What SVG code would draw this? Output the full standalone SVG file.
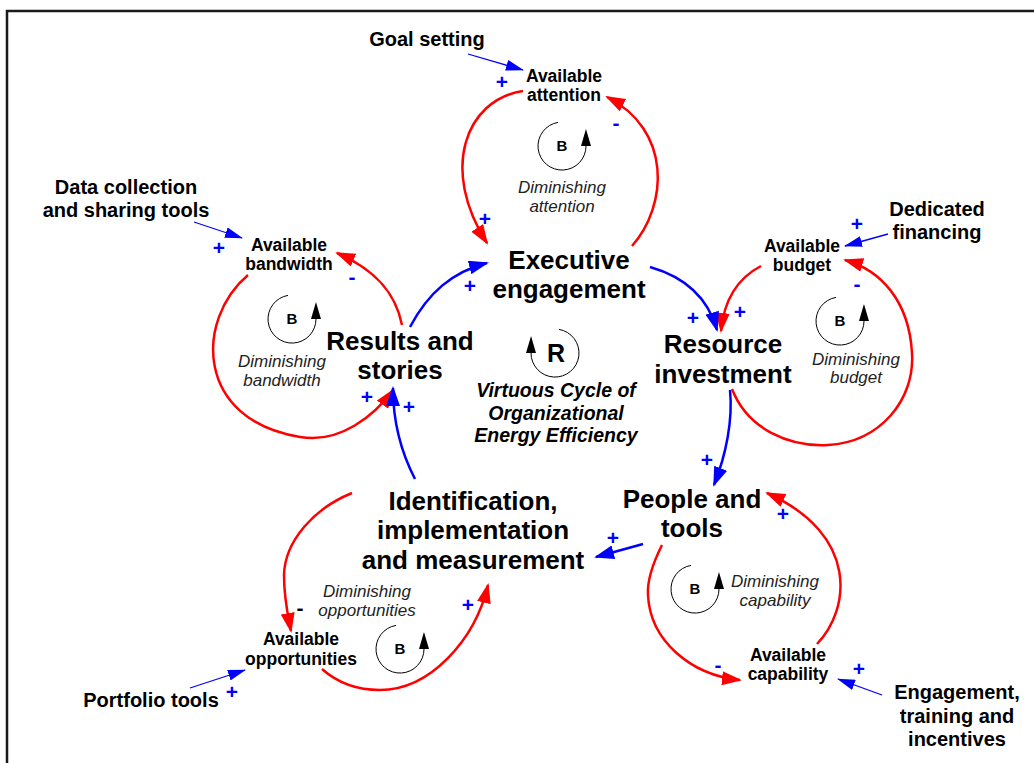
<svg xmlns="http://www.w3.org/2000/svg" width="1034" height="763" viewBox="0 0 1034 763">
<defs>
<style>
text{font-family:"Liberation Sans",Arial,sans-serif;fill:#000;text-anchor:middle}
.n{font-size:26px;font-weight:bold}
.s{font-size:17.5px;font-weight:bold}
.x{font-size:20px;font-weight:bold}
.i{font-size:17px;font-style:italic;fill:#222}
.v{font-size:19.5px;font-weight:bold;font-style:italic}
.lb{font-size:15px;font-weight:bold}
.lr{font-size:25px;font-weight:bold}
.pl{font-size:21px;font-weight:bold;fill:#00f}
.mk{font-size:21px;font-weight:bold;fill:#000}
.red{fill:none;stroke:#f00;stroke-width:2.5;marker-end:url(#ar)}
.blu{fill:none;stroke:#00f;stroke-width:2.5;marker-end:url(#ab)}
.thin{fill:none;stroke:#00f;stroke-width:1.3;marker-end:url(#at)}
.loop{fill:none;stroke:#000;stroke-width:1;marker-end:url(#ak)}
</style>
<marker id="ar" markerUnits="userSpaceOnUse" markerWidth="20" markerHeight="14" refX="18" refY="7" orient="auto"><path d="M0,0 L20,7 L0,14 z" fill="#f00"/></marker>
<marker id="ab" markerUnits="userSpaceOnUse" markerWidth="20" markerHeight="14" refX="18" refY="7" orient="auto"><path d="M0,0 L20,7 L0,14 z" fill="#00f"/></marker>
<marker id="at" markerUnits="userSpaceOnUse" markerWidth="18" markerHeight="11" refX="17" refY="5.5" orient="auto"><path d="M0,0 L18,5.5 L0,11 z" fill="#00f"/></marker>
<marker id="ak" markerUnits="userSpaceOnUse" markerWidth="17" markerHeight="10" refX="0" refY="5" orient="auto"><path d="M0,0 L17,5 L0,10 z" fill="#000"/></marker>
</defs>
<rect x="0" y="0" width="1034" height="763" fill="#fff"/>
<rect x="7" y="11" width="1040" height="770" fill="none" stroke="#1a1a1a" stroke-width="2.5"/>

<g id="connectors">
<path class="red" d="M523,91 C465,100 440,170 487,243"/>
<path class="red" d="M632,246 C668,205 672,130 607,97"/>
<path class="red" d="M248,275 C195,320 195,420 300,437 C340,444 375,415 393,390"/>
<path class="red" d="M402,325 C395,290 372,268 337,253"/>
<path class="red" d="M761,266 C738,278 724,300 721,331"/>
<path class="red" d="M732,389 C748,430 790,447 828,445 C880,442 915,400 912,353 C909,300 880,270 845,260"/>
<path class="red" d="M662,545 C652,565 647,580 648,595 C650,640 690,675 740,680"/>
<path class="red" d="M817,644 C850,610 860,535 767,493"/>
<path class="red" d="M352,493 C315,508 285,540 284,575 C284,600 288,615 291,631"/>
<path class="red" d="M322,669 C340,685 360,690 380,690 C430,690 475,640 488,585"/>
<path class="blu" d="M410,327 C428,293 452,272 487,263"/>
<path class="blu" d="M650,267 C685,277 708,298 717,330"/>
<path class="blu" d="M730,390 C733,420 726,455 714,485"/>
<path class="blu" d="M643,544 L596,557"/>
<path class="blu" d="M415,479 C400,450 393,420 393,388"/>
<path class="thin" d="M468,54 L523,70"/>
<path class="thin" d="M194,222 L242,238"/>
<path class="thin" d="M888,234 L845,246"/>
<path class="thin" d="M190,688 L245,670"/>
<path class="thin" d="M882,695 L838,679"/>
</g>

<g id="polarities">
<text class="pl" x="502" y="89">+</text>
<text class="pl" x="485" y="226">+</text>
<text class="pl" x="616" y="130">-</text>
<text class="pl" x="219" y="255">+</text>
<text class="pl" x="367" y="404">+</text>
<text class="pl" x="352" y="284">-</text>
<text class="pl" x="470" y="293">+</text>
<text class="pl" x="409" y="414">+</text>
<text class="pl" x="693" y="325">+</text>
<text class="pl" x="740" y="319">+</text>
<text class="pl" x="857" y="231">+</text>
<text class="pl" x="857" y="291">-</text>
<text class="pl" x="707" y="467">+</text>
<text class="pl" x="613" y="545">+</text>
<text class="pl" x="783" y="521">+</text>
<text class="pl" x="718" y="672">-</text>
<text class="pl" x="859" y="676">+</text>
<text class="mk" x="300" y="615">-</text>
<text class="pl" x="468" y="612">+</text>
<text class="pl" x="232" y="699">+</text>
</g>

<g id="goal-setting"><text class="x" x="427" y="46">Goal setting</text></g>
<g id="available-attention"><text class="s" x="564" y="82">Available</text><text class="s" x="564" y="101">attention</text></g>
<g id="executive-engagement"><text class="n" x="569" y="269">Executive</text><text class="n" x="569" y="298">engagement</text></g>
<g id="results-stories"><text class="n" x="400" y="350">Results and</text><text class="n" x="400" y="379">stories</text></g>
<g id="resource-investment"><text class="n" x="723" y="353">Resource</text><text class="n" x="723" y="383">investment</text></g>
<g id="people-tools"><text class="n" x="692" y="508">People and</text><text class="n" x="692" y="537">tools</text></g>
<g id="identification"><text class="n" x="473" y="510">Identification,</text><text class="n" x="473" y="539">implementation</text><text class="n" x="473" y="569">and measurement</text></g>
<g id="available-opportunities"><text class="s" x="301" y="645">Available</text><text class="s" x="301" y="665">opportunities</text></g>
<g id="portfolio-tools"><text class="x" x="151" y="707">Portfolio tools</text></g>
<g id="available-capability"><text class="s" x="788" y="661">Available</text><text class="s" x="788" y="680">capability</text></g>
<g id="engagement-training"><text class="x" x="957" y="699">Engagement,</text><text class="x" x="957" y="723">training and</text><text class="x" x="957" y="746">incentives</text></g>
<g id="available-budget"><text class="s" x="802" y="252">Available</text><text class="s" x="802" y="271">budget</text></g>
<g id="dedicated-financing"><text class="x" x="937" y="216">Dedicated</text><text class="x" x="937" y="239">financing</text></g>
<g id="available-bandwidth"><text class="s" x="289" y="251">Available</text><text class="s" x="289" y="270">bandwidth</text></g>
<g id="data-collection"><text class="x" x="126" y="194">Data collection</text><text class="x" x="126" y="217">and sharing tools</text></g>

<g id="loop-attention">
<path class="loop" d="M558,122.4 A24,24 0 1 0 586,146"/>
<text class="lb" x="562" y="151">B</text>
<text class="i" x="562" y="193">Diminishing</text><text class="i" x="562" y="212">attention</text>
</g>
<g id="loop-bandwidth">
<path class="loop" d="M288,295.4 A24,24 0 1 0 316,319"/>
<text class="lb" x="292" y="324">B</text>
<text class="i" x="282" y="367">Diminishing</text><text class="i" x="282" y="386">bandwidth</text>
</g>
<g id="loop-budget">
<path class="loop" d="M836,297.4 A24,24 0 1 0 864,321"/>
<text class="lb" x="840" y="326">B</text>
<text class="i" x="856" y="365">Diminishing</text><text class="i" x="856" y="383">budget</text>
</g>
<g id="loop-capability">
<path class="loop" d="M691,565.4 A24,24 0 1 0 719,589"/>
<text class="lb" x="695" y="594">B</text>
<text class="i" x="775" y="587">Diminishing</text><text class="i" x="775" y="606">capability</text>
</g>
<g id="loop-opportunities">
<path class="loop" d="M396,625.4 A24,24 0 1 0 424,649"/>
<text class="lb" x="400" y="654">B</text>
<text class="i" x="367" y="597">Diminishing</text><text class="i" x="367" y="616">opportunities</text>
</g>
<g id="loop-reinforcing">
<path class="loop" d="M559,329.4 A24,24 0 1 1 531,353"/>
<text class="lr" x="556" y="362">R</text>
<text class="v" x="556" y="397">Virtuous Cycle of</text>
<text class="v" x="556" y="420">Organizational</text>
<text class="v" x="556" y="442">Energy Efficiency</text>
</g>
</svg>
